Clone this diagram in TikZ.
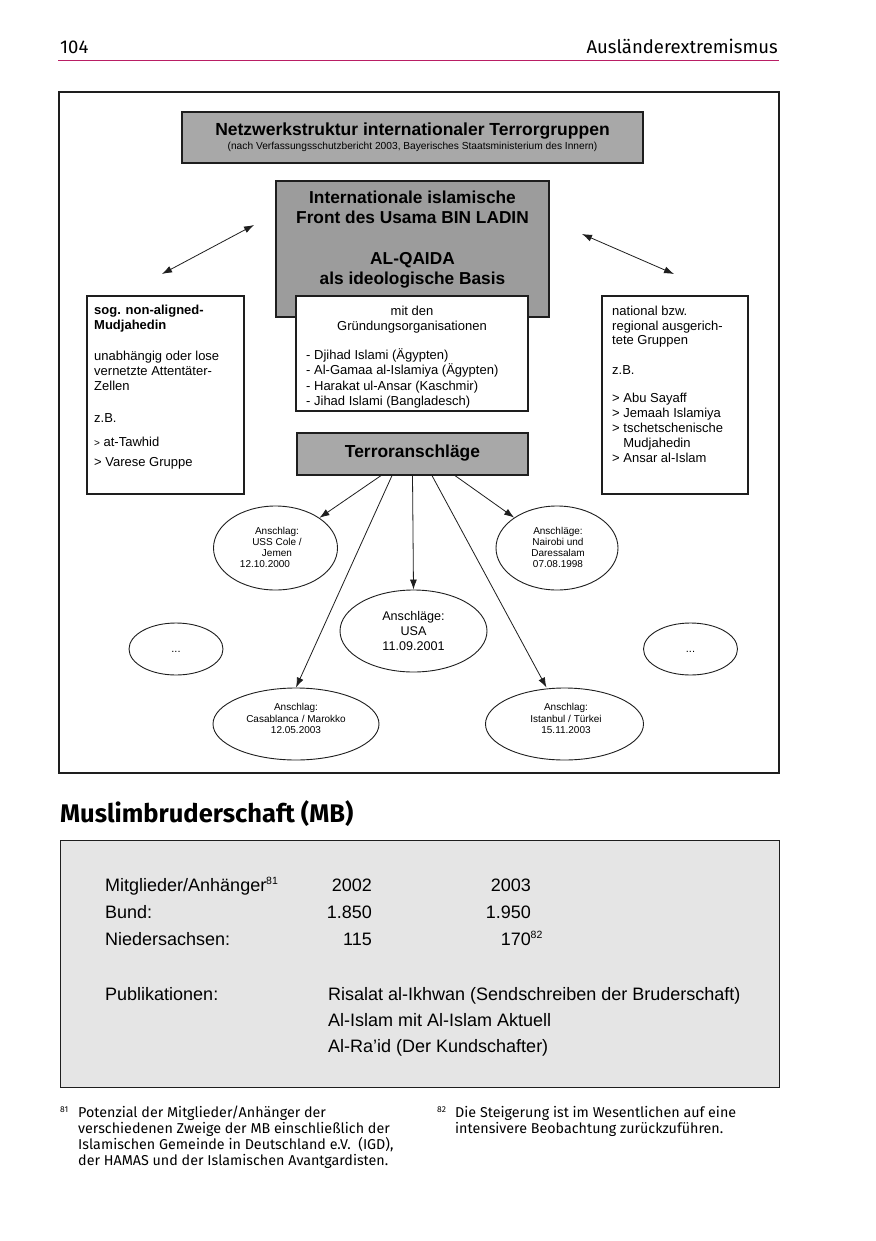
\documentclass[tikz,border=0pt]{standalone}
\usepackage{fontspec}
\setmainfont{Liberation Sans}
\newfontfamily\frutfont{Fira Sans}
\usetikzlibrary{shapes.geometric,arrows.meta}
\definecolor{hdrline}{RGB}{185,30,100}
\definecolor{graytitle}{RGB}{168,168,168}
\definecolor{graycenter}{RGB}{156,156,156}
\definecolor{grayterr}{RGB}{168,168,168}
\definecolor{graymb}{RGB}{229,229,229}
\definecolor{linecol}{RGB}{30,30,30}
\newcommand{\fsz}[2]{\fontsize{#1}{#2}\selectfont}
\begin{document}
\begin{tikzpicture}[x=1pt,y=-1pt,
  boxn/.style={rectangle,draw=linecol,line width=1.2pt,inner sep=0pt},
  elln/.style={ellipse,draw=linecol,line width=0.9pt,fill=white,inner sep=0pt},
  txt/.style={anchor=base west,inner sep=0pt},
  rtxt/.style={anchor=base east,inner sep=0pt},
  ctxt/.style={anchor=base,inner sep=0pt},
  etxt/.style={align=center,inner sep=0pt,font=\fsz{10}{11}},
  arr/.style={-{Latex[length=10pt,width=7pt]},line width=0.8pt,draw=linecol},
  darr/.style={{Latex[length=10pt,width=7pt]}-{Latex[length=10pt,width=7pt]},line width=0.8pt,draw=linecol},
  boxfont/.style={font=\fsz{13}{15}},
  mbfont/.style={font=\fsz{18}{20}},
  fnfont/.style={font=\frutfont\fsz{14.3}{16}}
]
\fill[white] (0,0) rectangle (875,1241);
\useasboundingbox (0,0) rectangle (875,1241);

% header
\node[txt,font=\frutfont\fsz{18.5}{20}] (pg) at (60,53.5) {104};
\node[rtxt,font=\frutfont\fsz{18.5}{20}] (hd) at (778,53.5) {Ausländerextremismus};
\coordinate (hl1) at (58,61);
\coordinate (hl2) at (779,61);
\draw[hdrline,line width=1pt] (hl1) -- (hl2);

% outer frame
\node[boxn,line width=1.5pt,minimum width=720pt,minimum height=681pt] (frame) at (419,432.5) {};

% title
\node[boxn,fill=graytitle,minimum width=461pt,minimum height=51pt] (title) at (412.5,137.5) {};
\node[ctxt,font=\bfseries\fsz{17.5}{20}] (titletext) at (412.5,136) {Netzwerkstruktur internationaler Terrorgruppen};
\node[ctxt,font=\fsz{10.2}{11}] (titlesub) at (412.5,149.5) {(nach Verfassungsschutzbericht 2003, Bayerisches Staatsministerium des Innern)};

% center box
\node[boxn,fill=graycenter,minimum width=273pt,minimum height=136pt] (center) at (412.5,249) {};
\foreach \lbl/\yy [count=\i] in {{Internationale islamische}/204,{Front des Usama BIN LADIN}/224,{AL-QAIDA}/265,{als ideologische Basis}/284.5}
  \node[ctxt,font=\bfseries\fsz{17.3}{20}] (c\i) at (412.5,\yy) {\lbl};

% double arrows
\coordinate (la1) at (162,274);
\coordinate (la2) at (254,225);
\draw[darr] (la1) -- (la2);
\coordinate (ra1) at (582,234);
\coordinate (ra2) at (674,274);
\draw[darr] (ra1) -- (ra2);

% founding organisations box
\node[boxn,fill=white,minimum width=232pt,minimum height=115pt] (found) at (412,353.5) {};
\node[ctxt,boxfont] (f1) at (412,315) {mit den};
\node[ctxt,boxfont] (f2) at (412,330.5) {Gründungsorganisationen};
\begin{scope}
  \clip (297,297) rectangle (527,407);
  \foreach \lbl/\yy [count=\i] in {{- Djihad Islami (Ägypten)}/359.5,{- Al-Gamaa al-Islamiya (Ägypten)}/374.5,{- Harakat ul-Ansar (Kaschmir)}/390,{- Jihad Islami (Bangladesch)}/405.5}
    \node[txt,boxfont] (fl\i) at (306,\yy) {\lbl};
\end{scope}

% left box
\node[boxn,fill=white,minimum width=157pt,minimum height=198pt] (lbox) at (165.5,395) {};
\foreach \lbl/\yy [count=\i] in {{\bfseries sog. non-aligned-}/314,{\bfseries Mudjahedin}/329,{unabhängig oder lose}/360,{vernetzte Attentäter-}/375.5,{Zellen}/390.5,{z.B.}/422.5,{{\fsz{10}{10}>} at-Tawhid}/446,{> Varese Gruppe}/466}
  \node[txt,boxfont] (lb\i) at (94,\yy) {\lbl};

% right box
\node[boxn,fill=white,minimum width=146pt,minimum height=198pt] (rbox) at (675,395) {};
\foreach \lbl/\yy [count=\i] in {{national bzw.}/315.5,{regional ausgerich-}/330,{tete Gruppen}/344.5,{z.B.}/374.5,{> Abu Sayaff}/402.5,{> Jemaah Islamiya}/417.5,{> tschetschenische}/432.5,{\hphantom{>} Mudjahedin}/447.5,{> Ansar al-Islam}/462.5}
  \node[txt,boxfont] (rb\i) at (612,\yy) {\lbl};

% Terroranschlaege
\node[boxn,fill=grayterr,minimum width=231pt,minimum height=42pt] (terr) at (412.5,454) {};
\node[ctxt,font=\bfseries\fsz{17.4}{20}] (terrtext) at (412.5,457.5) {Terroranschläge};

% ellipses
\node[elln,minimum width=124pt,minimum height=84pt] (e1) at (275.5,548) {};
\node[etxt] (e1t) at (277,547.5) {Anschlag:\\USS Cole /\\Jemen\\12.10.2000\hspace*{24pt}};
\node[elln,minimum width=122pt,minimum height=84pt] (e2) at (557,548) {};
\node[etxt] (e2t) at (558,547.5) {Anschläge:\\Nairobi und\\Daressalam\\07.08.1998};
\node[elln,minimum width=147pt,minimum height=82pt] (e5) at (413.5,631) {};
\node[etxt,font=\fsz{12.6}{15}] (e5t) at (413.5,631) {Anschläge:\\USA\\11.09.2001};
\node[elln,minimum width=166pt,minimum height=72pt] (e3) at (296,724) {};
\node[etxt,font=\fsz{10}{11.5}] (e3t) at (296,718.5) {Anschlag:\\Casablanca / Marokko\\12.05.2003};
\node[elln,minimum width=158pt,minimum height=72pt] (e4) at (564.5,724) {};
\node[etxt,font=\fsz{10}{11.5}] (e4t) at (566,718.5) {Anschlag:\\Istanbul / Türkei\\15.11.2003};
\node[elln,minimum width=94pt,minimum height=52pt] (d1) at (176,649) {};
\node[ctxt,font=\fsz{11}{12}] (d1t) at (176,652) {...};
\node[elln,minimum width=94pt,minimum height=52pt] (d2) at (690.5,649) {};
\node[ctxt,font=\fsz{11}{12}] (d2t) at (690.5,652) {...};

% arrows from Terroranschlaege
\draw[arr] ([xshift=-31.5pt]terr.south) -- (e1);
\draw[arr] ([xshift=-20.5pt]terr.south) -- (e3.north);
\draw[arr] (terr.south) -- (e5.north);
\draw[arr] ([xshift=19.5pt]terr.south) -- ([xshift=-18pt]e4.north);
\draw[arr] ([xshift=42.5pt]terr.south) -- (e2);

% Muslimbruderschaft
\node[txt,font=\frutfont\bfseries\fsz{25.5}{28}] (mbhead) at (60,822) {Muslimbruderschaft (MB)};
\node[rectangle,draw=linecol,line width=1pt,fill=graymb,minimum width=719pt,minimum height=247pt,inner sep=0pt] (mbbox) at (419.5,963.5) {};
\node[txt,mbfont] (m1) at (105,891) {Mitglieder/Anhänger};
\node[anchor=base west,inner sep=0pt,font=\fsz{10.5}{10}] (m1s) at ([xshift=-0.5pt,yshift=6.5pt]m1.base east) {81};
\node[rtxt,mbfont] (m2) at (372,891) {2002};
\node[rtxt,mbfont] (m3) at (531,891) {2003};
\node[txt,mbfont] (m4) at (105,918) {Bund:};
\node[rtxt,mbfont] (m5) at (372,918) {1.850};
\node[rtxt,mbfont] (m6) at (531,918) {1.950};
\node[txt,mbfont] (m7) at (105,945) {Niedersachsen:};
\node[rtxt,mbfont] (m8) at (372,945) {115};
\node[rtxt,mbfont] (m9) at (531,945) {170};
\node[anchor=base west,inner sep=0pt,font=\fsz{10.5}{10}] (m9s) at ([xshift=-0.5pt,yshift=6.5pt]m9.base east) {82};
\node[txt,mbfont] (p1) at (105,1000) {Publikationen:};
\node[txt,mbfont] (p2) at (328,1000) {Risalat al-Ikhwan (Sendschreiben der Bruderschaft)};
\node[txt,mbfont] (p3) at (328,1026) {Al-Islam mit Al-Islam Aktuell};
\node[txt,mbfont] (p4) at (328,1052) {Al-Ra’id (Der Kundschafter)};

% footnotes
\node[txt,font=\frutfont\fsz{8.5}{9}] (fn81) at (60,1112) {81};
\node[txt,fnfont] (fa1) at (78,1117) {Potenzial der Mitglieder/Anhänger der};
\node[txt,fnfont] (fa2) at (78,1133) {verschiedenen Zweige der MB einschließlich der};
\node[txt,fnfont] (fa3) at (78,1149) {Islamischen Gemeinde in Deutschland e.V.\ \ (IGD),};
\node[txt,fnfont] (fa4) at (78,1165) {der HAMAS und der Islamischen Avantgardisten.};
\node[txt,font=\frutfont\fsz{8.5}{9}] (fn82) at (437,1112) {82};
\node[txt,fnfont] (fb1) at (455,1117) {Die Steigerung ist im Wesentlichen auf eine};
\node[txt,fnfont] (fb2) at (455,1133) {intensivere Beobachtung zurückzuführen.};
\end{tikzpicture}
\end{document}
